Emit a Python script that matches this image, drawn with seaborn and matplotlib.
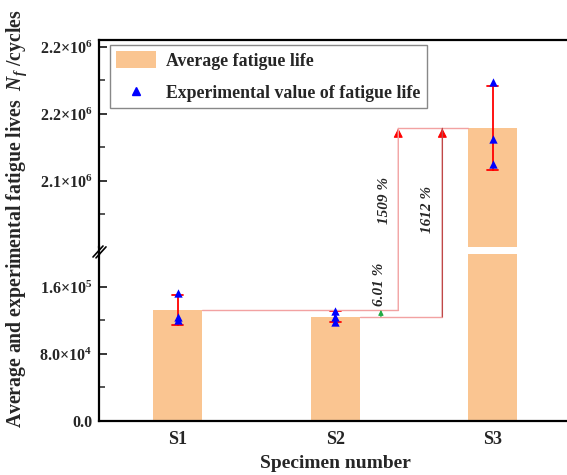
import numpy as np
import pandas as pd
import seaborn as sns
import matplotlib.pyplot as plt
from matplotlib.patches import Patch, ConnectionPatch
from matplotlib.lines import Line2D

# data
specimens = ["S1", "S2", "S3"]
s1_life = [152800, 124500, 120600]
s2_life = [131000, 124500, 118000]
s3_life = [2173900, 2131100, 2112700]

low_ticks = [0, 80000, 160000]
low_minor = [40000, 120000]
low_tick_labels = ["0.0", r"8.0×10$^{4}$", r"1.6×10$^{5}$"]
up_ticks = [2100000, 2150000, 2200000]
up_minor = [2075000, 2125000, 2175000]
up_tick_labels = [r"2.1×10$^{6}$", r"2.2×10$^{6}$", r"2.2×10$^{6}$"]
pct_labels = ["6.01 %", "1509 %", "1612 %"]

df = pd.DataFrame({"specimen": np.repeat(specimens, 3),
                   "life": s1_life + s2_life + s3_life})
m1, m2, m3 = np.mean(s1_life), np.mean(s2_life), np.mean(s3_life)

sns.set_style("ticks")
plt.rcParams["font.family"] = ["Liberation Serif", "DejaVu Serif"]
plt.rcParams["font.weight"] = "bold"
plt.rcParams["mathtext.fontset"] = "custom"
plt.rcParams["mathtext.rm"] = "Liberation Serif:bold"
plt.rcParams["mathtext.it"] = "Liberation Serif:italic:bold"

bar_color = "#FAC591"
pink = "#F2A2A2"
W, H = 567, 475
fig = plt.figure(figsize=(W / 100, H / 100), dpi=100)
ax_low = fig.add_axes([99 / W, 54 / H, 472.5 / W, 167 / H])
ax_up = fig.add_axes([99 / W, 228 / H, 472.5 / W, 207 / H])

for ax in (ax_low, ax_up):
    sns.barplot(df, x="specimen", y="life", order=specimens, errorbar="sd",
                capsize=0.07, width=0.31, color=bar_color, saturation=1,
                linewidth=0, err_kws={"color": "red", "linewidth": 1.3}, ax=ax)
    sns.stripplot(df, x="specimen", y="life", order=specimens, jitter=False,
                  marker="^", color="blue", size=6, linewidth=0, ax=ax, zorder=4)
    ax.set_xlim(-0.5, 2.5)
    ax.set_xlabel("")
    ax.set_ylabel("")
    for s in ax.spines.values():
        s.set_linewidth(1.6)
        s.set_color("black")
    ax.tick_params(axis="y", direction="in", length=6, width=1.3, labelsize=11.5, pad=5)
    ax.tick_params(axis="y", which="minor", direction="in", length=4, width=1.1)
    ax.tick_params(axis="x", length=0)

ax_low.set_ylim(0, 199400)
ax_low.set_yticks(low_ticks, low_tick_labels)
ax_low.set_yticks(low_minor, minor=True)
ax_low.spines["top"].set_visible(False)
ax_low.tick_params(axis="x", labelsize=13, pad=7)

ax_up.set_ylim(2050700, 2205200)
ax_up.set_yticks(up_ticks, up_tick_labels)
ax_up.set_yticks(up_minor, minor=True)
ax_up.spines["bottom"].set_visible(False)
ax_up.set_xticks([])

ax_low.set_xlabel("Specimen number", fontsize=14, fontweight="bold", labelpad=5)
fig.text(17 / W, 1 - 219 / H, "Average and experimental fatigue lives  $N_f$ /cycles",
         rotation=90, ha="center", va="center", fontsize=14.2, fontweight="bold")

# comparison lines between the mean values
hw = 0.31 / 2
x1, x2, xg = 1.40, 1.68, 1.29
ax_low.plot([hw, x1], [m1, m1], color=pink, lw=1, zorder=2)
ax_low.plot([1 + hw, x2], [m2, m2], color=pink, lw=1, zorder=2)
ax_up.plot([x1, 2 - hw], [m3, m3], color=pink, lw=1, zorder=2)
for x, y, c in [(x1, m1, pink), (x2, m2, "#C04848")]:
    fig.add_artist(ConnectionPatch(xyA=(x, y), coordsA=ax_low.transData,
                                   xyB=(x, m3), coordsB=ax_up.transData,
                                   color=c, lw=1))
    ax_up.annotate("", xy=(x, m3), xytext=(0, -6), textcoords="offset points",
                   arrowprops=dict(arrowstyle="-|>,head_length=0.55,head_width=0.28",
                                   color="red", lw=0.8, shrinkA=0, shrinkB=0))
ax_low.annotate("", xy=(xg, m1), xytext=(xg, m2),
                arrowprops=dict(arrowstyle="-|>,head_length=0.3,head_width=0.15",
                                color="#22AA44", lw=0.8, shrinkA=0, shrinkB=0))

txt = dict(rotation=90, ha="center", va="center", fontsize=11,
           fontweight="bold", fontstyle="italic")
ax_low.text(xg - 0.007, 163500, pct_labels[0], **txt)
ax_up.text(x1 - 0.086, 2085800, pct_labels[1], **txt)
ax_up.text(x2 - 0.093, 2078400, pct_labels[2], **txt)

ax_up.legend(handles=[Patch(facecolor=bar_color, edgecolor="none", label="Average fatigue life"),
                      Line2D([], [], marker="^", ls="none", color="blue", markersize=6,
                             label="Experimental value of fatigue life")],
             loc="upper left", bbox_to_anchor=(11 / 472.5, 1 - 5 / 207), borderaxespad=0,
             fancybox=False, edgecolor="#888888", framealpha=1, handlelength=2.25,
             handleheight=1.1, borderpad=0.35, labelspacing=0.78, handletextpad=0.55,
             prop={"size": 12.8, "weight": "bold"})

# axis break marks on the left spine
fig.add_artist(Line2D([99 / W, 99 / W], [220 / H, 229 / H], color="black", lw=1.6))
for dx in (0, 3):
    fig.add_artist(Line2D([(93 + dx) / W, (103 + dx) / W],
                          [(H - 257 - dx * 0.3) / H, (H - 246 - dx * 0.3) / H],
                          color="black", lw=1.2))

fig.savefig("out.png", dpi=100)
